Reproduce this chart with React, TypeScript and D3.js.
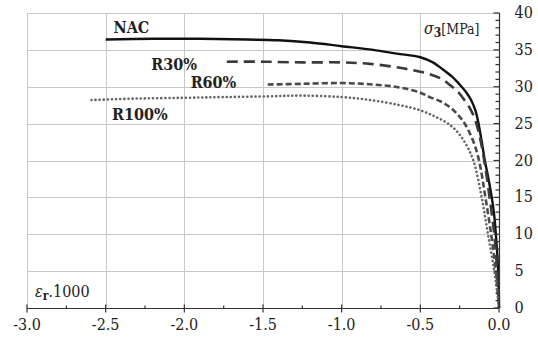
import React, { useEffect, useRef } from 'react'
import * as d3 from 'd3'

// strain (x1000) vs confining stress sigma3 [MPa]
const nacStrain = [-2.5, -2.2, -1.9, -1.6, -1.4, -1.2, -1.0, -0.8, -0.65, -0.5, -0.42, -0.36, -0.3, -0.25, -0.21, -0.18, -0.15, -0.13, -0.11, -0.09, -0.065, -0.046, -0.03, -0.02, -0.01, -0.003, 0]
const nacStress = [36.4, 36.5, 36.5, 36.4, 36.3, 36.0, 35.5, 35.0, 34.5, 34.0, 33.3, 32.4, 31.4, 30.3, 29.3, 28.3, 26.8, 25.0, 22.6, 20.0, 17.3, 15.0, 12.5, 10.0, 7.0, 4.0, 0]

const r30Strain = [-1.73, -1.5, -1.25, -1.0, -0.82, -0.61, -0.44, -0.36, -0.31, -0.26, -0.22, -0.18, -0.15, -0.12, -0.09, -0.06, -0.03, -0.015, 0]
const r30Stress = [33.4, 33.4, 33.3, 33.3, 33.1, 32.5, 31.7, 31.0, 30.2, 29.3, 28.2, 26.9, 25.4, 23.0, 19.5, 15.0, 10.0, 6.0, 0]

const r60Strain = [-1.47, -1.25, -1.0, -0.8, -0.63, -0.5, -0.44, -0.37, -0.31, -0.27, -0.23, -0.19, -0.15, -0.12, -0.09, -0.05, -0.02, 0]
const r60Stress = [30.3, 30.4, 30.5, 30.3, 29.9, 29.2, 28.6, 28.0, 27.2, 26.4, 25.4, 23.9, 21.8, 19.3, 15.5, 10.0, 5.0, 0]

const r100Strain = [-2.59, -2.3, -2.0, -1.75, -1.46, -1.25, -1.0, -0.82, -0.63, -0.5, -0.4, -0.31, -0.25, -0.2, -0.16, -0.11, -0.07, -0.03, -0.008, 0]
const r100Stress = [28.2, 28.4, 28.5, 28.6, 28.7, 28.8, 28.6, 28.2, 27.5, 26.8, 25.9, 24.8, 23.5, 21.8, 19.8, 15.0, 10.0, 5.0, 1.5, 0]

const xTicks = [-3.0, -2.5, -2.0, -1.5, -1.0, -0.5, 0.0]
const yTicks = [0, 5, 10, 15, 20, 25, 30, 35, 40]

const seriesList = [
  { name: 'NAC', xs: nacStrain, ys: nacStress, color: '#111', width: 2.4, dash: null, cap: 'butt' },
  { name: 'R30%', xs: r30Strain, ys: r30Stress, color: '#3a3a3a', width: 2.6, dash: '11 6', cap: 'butt' },
  { name: 'R60%', xs: r60Strain, ys: r60Stress, color: '#4a4a4a', width: 2.6, dash: '6 3', cap: 'butt' },
  { name: 'R100%', xs: r100Strain, ys: r100Stress, color: '#666', width: 2.6, dash: '0.1 4', cap: 'round' },
]

const labels = [
  { text: 'NAC', x: -2.45, y: 37.3 },
  { text: 'R30%', x: -2.21, y: 32.3 },
  { text: 'R60%', x: -1.96, y: 29.8 },
  { text: 'R100%', x: -2.46, y: 25.5 },
]

export default function App() {
  const svgRef = useRef<SVGSVGElement>(null)

  useEffect(() => {
    const width = 538, height = 347
    const m = { top: 13, right: 39, bottom: 39, left: 27 }
    const svg = d3.select(svgRef.current)
      .attr('width', width).attr('height', height)
    svg.selectAll('*').remove()

    const x = d3.scaleLinear().domain([-3, 0]).range([m.left, width - m.right])
    const y = d3.scaleLinear().domain([0, 40]).range([height - m.bottom, m.top])
    const font = "'DejaVu Serif Condensed', 'DejaVu Serif', serif"

    svg.append('rect').attr('width', width).attr('height', height).attr('fill', '#fff')

    // grid
    const grid = svg.append('g').attr('stroke', '#c8c8c8').attr('stroke-width', 1)
    xTicks.forEach(t => grid.append('line')
      .attr('x1', Math.round(x(t)) + 0.5).attr('x2', Math.round(x(t)) + 0.5)
      .attr('y1', y(40)).attr('y2', y(0)))
    yTicks.forEach(t => grid.append('line')
      .attr('y1', Math.round(y(t)) + 0.5).attr('y2', Math.round(y(t)) + 0.5)
      .attr('x1', x(-3)).attr('x2', x(0)))

    // curves
    const line = d3.line<[number, number]>().x(d => x(d[0])).y(d => y(d[1])).curve(d3.curveCatmullRom)
    seriesList.forEach(s => {
      const pts: [number, number][] = s.xs.map((v, i) => [v, s.ys[i]])
      svg.append('path')
        .attr('d', line(pts))
        .attr('fill', 'none')
        .attr('stroke', s.color)
        .attr('stroke-width', s.width)
        .attr('stroke-linecap', s.cap)
        .attr('stroke-dasharray', s.dash)
    })

    // x axis (bottom)
    const ax = svg.append('g').attr('stroke', '#333').attr('stroke-width', 1.2)
    const yb = Math.round(y(0)) + 0.5
    ax.append('line').attr('x1', x(-3)).attr('x2', x(0)).attr('y1', yb).attr('y2', yb)
    d3.range(-3, 0.001, 0.25).forEach(t => {
      const major = Math.abs(t * 2 - Math.round(t * 2)) < 1e-6
      ax.append('line').attr('x1', x(t)).attr('x2', x(t))
        .attr('y1', major ? yb - 4 : yb - 3).attr('y2', major ? yb + 4 : yb)
    })
    svg.append('g').selectAll('text').data(xTicks).join('text')
      .attr('x', d => x(d)).attr('y', yb + 21)
      .attr('text-anchor', 'middle').style('font-family', font).attr('font-size', 16).attr('fill', '#222')
      .text(d => d3.format('.1f')(d).replace('−', '-'))

    // y axis (right)
    const xr = Math.round(x(0)) + 0.5
    ax.append('line').attr('x1', xr).attr('x2', xr).attr('y1', y(40)).attr('y2', y(0))
    d3.range(0, 41, 1).forEach(t => {
      const major = t % 5 === 0
      ax.append('line').attr('y1', y(t)).attr('y2', y(t))
        .attr('x1', major ? xr - 6 : xr - 4).attr('x2', xr)
    })
    svg.append('g').selectAll('text').data(yTicks).join('text')
      .attr('x', xr + 15).attr('y', d => y(d) + 5)
      .style('font-family', font).attr('font-size', 16).attr('fill', '#222')
      .text(d => d)

    // series labels
    svg.append('g').selectAll('text').data(labels).join('text')
      .attr('x', d => x(d.x)).attr('y', d => y(d.y))
      .style('font-family', font).attr('font-size', 16).attr('font-weight', 'bold').attr('fill', '#222')
      .text(d => d.text)

    // axis titles
    const s3 = svg.append('text').attr('x', 424).attr('y', 34)
      .style('font-family', font).attr('font-size', 14).attr('fill', '#222')
    s3.append('tspan').attr('font-style', 'italic').attr('font-size', 16).text('σ')
    s3.append('tspan').attr('font-weight', 'bold').attr('dy', 3).attr('font-size', 12).text('3')
    s3.append('tspan').attr('dy', -3).text('[MPa]')

    const er = svg.append('text').attr('x', 35).attr('y', 297)
      .style('font-family', font).attr('font-size', 16).attr('fill', '#222')
    er.append('tspan').attr('font-style', 'italic').text('ε')
    er.append('tspan').attr('font-weight', 'bold').attr('dy', 3).attr('font-size', 12).text('r')
    er.append('tspan').attr('dy', -3).text('.1000')
  }, [])

  return (
    <div style={{ position: 'absolute', left: 0, top: 0 }}>
      <svg ref={svgRef} style={{ display: 'block' }} />
    </div>
  )
}
